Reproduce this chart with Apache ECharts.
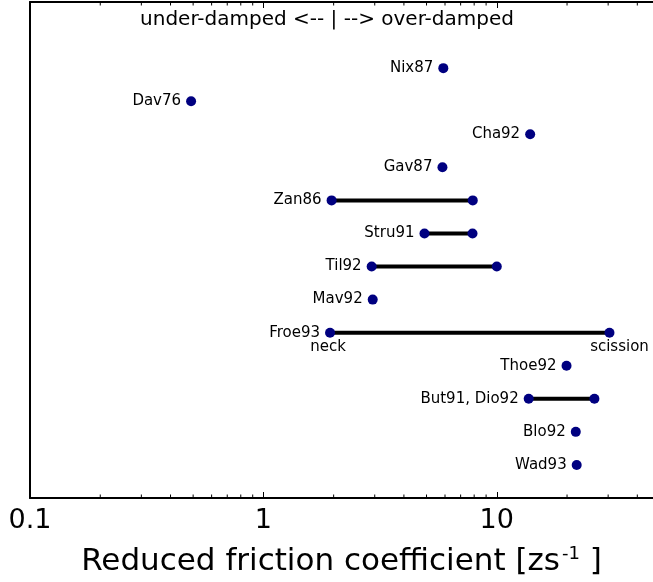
<!DOCTYPE html>
<html>
<head>
<meta charset="utf-8">
<title>Reduced friction coefficient</title>
<script src="https://cdn.jsdelivr.net/npm/echarts@6/dist/echarts.min.js"></script>
<style>
  html, body { margin: 0; padding: 0; background: #fff; }
  #chart { width: 653px; height: 582px; }
</style>
</head>
<body>
<div id="chart"></div>
<script>
// Experiments / analyses, listed top to bottom
const rowNames = ['Nix87', 'Dav76', 'Cha92', 'Gav87', 'Zan86', 'Stru91', 'Til92',
                  'Mav92', 'Froe93', 'Thoe92', 'But91, Dio92', 'Blo92', 'Wad93'];
// Reduced friction coefficient (zs^-1): single value or lower end of a range
const lowValues  = [5.9, 0.49, 13.9, 5.85, 1.96, 4.9, 2.91, 2.94, 1.93, 19.9, 13.7, 21.8, 22.0];
// Upper end of the range (null where only one value is given)
const highValues = [null, null, null, null, 7.89, 7.87, 10.0, null, 30.4, null, 26.2, null, null];
// Froe93 endpoints: neck and scission
const endpointRow = 'Froe93';
const endpointLabels = ['neck', 'scission'];
// Axis ticks
const majorTickValues = [0.1, 1, 10];
const minorTickValues = [0.2, 0.3, 0.4, 0.5, 0.6, 0.7, 0.8, 0.9,
                         2, 3, 4, 5, 6, 7, 8, 9, 20, 30, 40];
// x range: the plot is cut off at the right edge
const xMin = 0.1, xMax = 46.7;
const yMin = 0, yMax = 15;
const annotation = 'under-damped <-- | --> over-damped';

const FONT = 'DejaVu Sans';
const DOT = '#000080';
const rowY = i => rowNames.length - i;   // first row at the top

const lowPoints = rowNames.map((n, i) => ({ name: n, value: [lowValues[i], rowY(i)] }));
const highPoints = [];
const ranges = [];
rowNames.forEach((n, i) => {
  if (highValues[i] != null) {
    highPoints.push({ name: n, value: [highValues[i], rowY(i)] });
    ranges.push([lowValues[i], highValues[i], rowY(i)]);
  }
});
const ei = rowNames.indexOf(endpointRow);
const endpointPoints = [
  [lowValues[ei], rowY(ei), 0],
  [highValues[ei], rowY(ei), 1]
];
const endpointShift = [-2, 10];   // horizontal nudge of each caption

const chart = echarts.init(document.getElementById('chart'), null, { renderer: 'canvas' });

const matchMajor = v => majorTickValues.find(t => Math.abs(Math.log10(v) - Math.log10(t)) < 1e-6);

chart.setOption({
  animation: false,
  backgroundColor: '#fff',
  textStyle: { fontFamily: FONT },
  grid: { left: 30, right: 0, top: 2, bottom: 84 },
  xAxis: [{
    type: 'log', logBase: 10, min: xMin, max: xMax, position: 'bottom',
    axisLine: { show: true, onZero: false, lineStyle: { color: '#000', width: 2 } },
    axisTick: { show: true, inside: true, length: 6, lineStyle: { color: '#000', width: 1 } },
    axisLabel: {
      show: true, fontSize: 27, color: '#000', fontFamily: FONT, margin: 9,
      showMinLabel: true, showMaxLabel: false,
      formatter: v => { const m = matchMajor(v); return m === undefined ? '' : String(m); }
    },
    splitLine: { show: false },
    name: '{a|Reduced friction coefficient [zs}{s|-1}{a| ]}',
    nameLocation: 'middle', nameGap: 47,
    nameTextStyle: {
      rich: {
        a: { fontSize: 31, fontFamily: FONT, color: '#000', lineHeight: 33 },
        s: { fontSize: 18, fontFamily: FONT, color: '#000', verticalAlign: 'top', padding: [0, 0, 10, 2] }
      }
    }
  }, {
    type: 'log', logBase: 10, min: xMin, max: xMax, position: 'top',
    axisLine: { show: true, onZero: false, lineStyle: { color: '#000', width: 2 } },
    axisTick: { show: true, inside: true, length: 6, lineStyle: { color: '#000', width: 1 } },
    axisLabel: { show: false },
    splitLine: { show: false }
  }],
  yAxis: {
    type: 'value', min: yMin, max: yMax,
    axisLine: { show: true, onZero: false, lineStyle: { color: '#000', width: 2 } },
    axisTick: { show: false },
    axisLabel: { show: false },
    splitLine: { show: false }
  },
  graphic: [{
    type: 'text', x: 327, y: 20, z: 10,
    style: {
      text: annotation, fontFamily: FONT, fontSize: 20, fill: '#000',
      align: 'center', verticalAlign: 'middle'
    }
  }],
  series: [
    {
      // minor ticks along bottom and top edges
      type: 'custom', silent: true, clip: false, z: 1,
      data: minorTickValues.map(v => [v]),
      renderItem: (params, api) => {
        const v = api.value(0);
        const b = api.coord([v, yMin]);
        const t = api.coord([v, yMax]);
        const s = { stroke: '#000', lineWidth: 1 };
        return {
          type: 'group', children: [
            { type: 'line', shape: { x1: b[0], y1: b[1], x2: b[0], y2: b[1] - 3.5 }, style: s },
            { type: 'line', shape: { x1: t[0], y1: t[1], x2: t[0], y2: t[1] + 3.5 }, style: s }
          ]
        };
      }
    },
    {
      // range bars
      type: 'custom', silent: true, z: 2,
      data: ranges,
      renderItem: (params, api) => {
        const a = api.coord([api.value(0), api.value(2)]);
        const b = api.coord([api.value(1), api.value(2)]);
        return {
          type: 'line',
          shape: { x1: a[0], y1: a[1], x2: b[0], y2: b[1] },
          style: { stroke: '#000', lineWidth: 4, lineCap: 'round' }
        };
      }
    },
    {
      type: 'scatter', z: 3, symbol: 'circle', symbolSize: 10,
      itemStyle: { color: DOT, opacity: 1 },
      data: highPoints
    },
    {
      type: 'scatter', z: 4, symbol: 'circle', symbolSize: 10,
      itemStyle: { color: DOT, opacity: 1 },
      label: {
        show: true, position: 'left', distance: 5, formatter: '{b}',
        fontFamily: FONT, fontSize: 15, color: '#000'
      },
      data: lowPoints
    },
    {
      // "neck" / "scission" captions under the Froe93 endpoints
      type: 'custom', silent: true, clip: false, z: 5,
      data: endpointPoints,
      renderItem: (params, api) => {
        const p = api.coord([api.value(0), api.value(1)]);
        const k = api.value(2);
        return {
          type: 'text',
          x: p[0] + endpointShift[k], y: p[1] + 14,
          style: {
            text: endpointLabels[k], fontFamily: FONT, fontSize: 15, fill: '#000',
            align: 'center', verticalAlign: 'middle'
          }
        };
      }
    }
  ]
});
</script>
</body>
</html>
